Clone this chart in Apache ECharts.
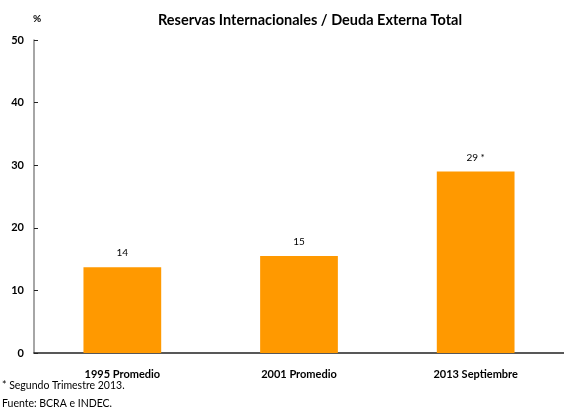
<!DOCTYPE html>
<html>
<head>
<meta charset="utf-8">
<script src="https://cdn.jsdelivr.net/npm/echarts@6/dist/echarts.min.js"></script>
<style>
  html, body { margin: 0; padding: 0; background: #fff; }
  #main { width: 564px; height: 407px; }
</style>
</head>
<body>
<div id="main"></div>
<script>
const categories = ['1995 Promedio', '2001 Promedio', '2013 Septiembre'];
const values = [13.7, 15.5, 29];
const labels = ['14', '15', '29 *'];

const font = 'Lato, "DejaVu Sans", sans-serif';
const chart = echarts.init(document.getElementById('main'));

chart.setOption({
  animation: false,
  textStyle: { fontFamily: font },
  title: {
    text: 'Reservas Internacionales / Deuda Externa Total',
    left: 305, top: 8, textAlign: 'center',
    textStyle: { fontSize: 14.5, fontWeight: 'bold', color: '#000', fontFamily: font }
  },
  graphic: [
    { type: 'text', left: 33, top: 14, style: { text: '%', font: 'bold 10px ' + font, fill: '#000' } },
    { type: 'text', left: 2, top: 380, style: { text: '* Segundo Trimestre 2013.', font: '10.5px ' + font, fill: '#000' } },
    { type: 'text', left: 2, top: 398, style: { text: 'Fuente: BCRA e INDEC.', font: '10.5px ' + font, fill: '#000' } }
  ],
  grid: { left: 34, top: 40, width: 534, height: 313 },
  xAxis: {
    type: 'category',
    data: categories,
    axisLine: { lineStyle: { color: '#222', width: 1.5 } },
    axisTick: { inside: true, length: 4, lineStyle: { color: '#222' } },
    axisLabel: { fontWeight: 'bold', fontSize: 11, color: '#000', margin: 16, fontFamily: font }
  },
  yAxis: {
    type: 'value',
    min: 0, max: 50, interval: 10,
    axisLine: { show: true, lineStyle: { color: '#888', width: 1.5 } },
    axisTick: { show: true, inside: true, length: 4, lineStyle: { color: '#222' } },
    splitLine: { show: false },
    axisLabel: { fontWeight: 'bold', fontSize: 11, color: '#000', margin: 10, fontFamily: font }
  },
  series: [{
    type: 'bar',
    data: values,
    barWidth: '44%',
    itemStyle: { color: '#FF9900' },
    label: {
      show: true, position: 'top', distance: 9,
      fontSize: 10, color: '#000', fontFamily: font,
      formatter: p => labels[p.dataIndex]
    }
  }]
});
</script>
</body>
</html>
